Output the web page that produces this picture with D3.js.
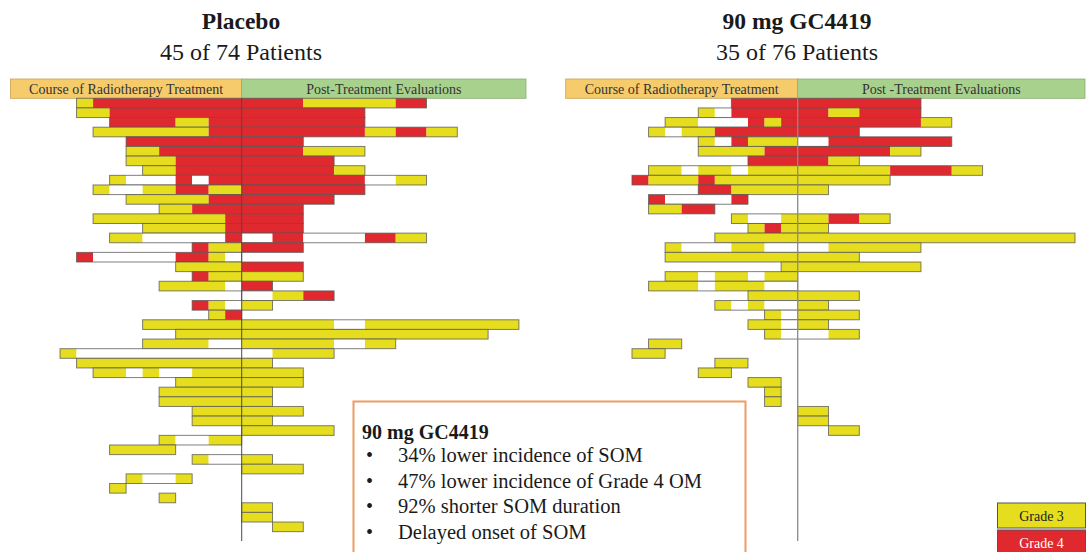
<!DOCTYPE html>
<html><head><meta charset="utf-8">
<script src="https://cdn.jsdelivr.net/npm/d3@7"></script>
<style>body{margin:0;background:#fff;} svg{display:block;font-family:"Liberation Serif","DejaVu Serif",serif;}</style>
</head><body><svg id="c" width="1092" height="552"></svg>
<script>
// Each row: cells left of the "|" are radiotherapy half-week cells (last char is the one next to the centre line),
// cells right of it are post-treatment weekly cells. Y = Grade 3, R = Grade 4, w = no severe OM, . = none
const placeboRows = [
  "YRRRRRRRRR|RRYYYR","YYRRRRRRRR|RRRR","RRRRYYRR|RRRR","YYYYYYYRR|RRRRYRY","RRRRRRR|RR",
  "YYRRRRR|RRYY","YYYRRRR|RRR","YYRRRR|RRRY","YwwwRwRR|RRRRwY","YwwYYRRYY|RRRR",
  "YYYYYRR|RRR","YYRRR|RR","YYYYYYYYR|RR","YYYYYR|RR","YYwwwwwR|wRwwRY",
  "RYY|RR","RwwwwwRRYw|","YYYY|RR","RYY|YY","YYYYw|R",
  "|wYR","RYw|Y","YR|","YYYYYY|YYYwYYYYY","YYYY|YYYYYYYY",
  "YYYYww|YYYwY","Ywwwwwwwwww|wYY","YYYYYYYYYY|Y","YYwYwwYYY|YY","YYYY|YY",
  "YYYYY|Y","YYYYY|Y","YYY|YY","YYY|Y","|YYY",
  "YwwYY|","YYYY....|","Yww|Y","|YY","YwwY...|",
  "Y.......|","Y....|","|Y","|Y","|.Y"
];
const gcRows = [
  "RRRR|RRRR","YwRRRR|RYRR","YYwwwRYR|RRRRY","YwYYRRRRR|RR","YwRYYY|wRRRR",
  "YYYYRR|RRRY","RRR|RY","YYwYYwYYY|YYYRRY","RYYYRYYYYY|YYY","RRYYYY|Y",
  "RwwwwR...|","YYRR.....|","YwwY|YRY","YRY|Y","YYYYY|YYYYYYYYY",
  "YwwwYYww|wYYY","YYYYYYYY|YY","Y|YYYY","YYwYYwYY|","YYYwYYYww|",
  "YYY|YY","YwYww|Y","Yw|YY","YYw|Y","Yw|wY",
  "YY.......|","YY........|","YY...|","YY....|","YY.|",
  "Y.|","Y.|","|Y","|Y","|.Y"
];
const panelTitles = ["Placebo", "90 mg GC4419"];
const panelSubtitles = ["45 of 74 Patients", "35 of 76 Patients"];
const phaseLabels = [["Course of Radiotherapy Treatment","Post-Treatment Evaluations"],
                     ["Course of Radiotherapy Treatment","Post -Treatment Evaluations"]];
const boxTitle = "90 mg GC4419";
const boxBullets = ["34% lower incidence of SOM","47% lower incidence of Grade 4 OM","92% shorter SOM duration","Delayed onset of SOM"];
const legendLabels = ["Grade 3","Grade 4"];

const colors = {Y:"#E5DD1E", R:"#E0292F", w:"#FFFFFF"};
const svg = d3.select("#c");

const panels = [
  {rows: placeboRows, range:[10.5, 241.7, 518.9], headEnd: 526, cx: 241, lineColor:"#4a4a4a", lineW:1},
  {rows: gcRows, range:[565.7, 797.7, 1075], headEnd: 1085, cx: 797, lineColor:"#8a8a8a", lineW:1.3}
];
const rowTop = 98.3, rowH = 9.63;

panels.forEach((p, pi) => {
  const g = svg.append("g");
  const x = d3.scaleLinear().domain([-14, 0, 9]).range(p.range);
  const y = d3.scaleBand().domain(d3.range(p.rows.length)).range([rowTop, rowTop + rowH * p.rows.length]).padding(0);

  // titles
  g.append("text").attr("x", p.cx).attr("y", 29).attr("text-anchor","middle")
    .attr("font-size", 23.5).attr("font-weight","bold").attr("fill","#1a1a1a").text(panelTitles[pi]);
  g.append("text").attr("x", p.cx).attr("y", 60).attr("text-anchor","middle")
    .attr("font-size", 24).attr("fill","#1a1a1a").text(panelSubtitles[pi]);

  // phase headers
  g.append("rect").attr("x", x(-14)).attr("y", 79).attr("width", x(0)-x(-14)).attr("height", rowTop-79)
    .attr("fill","#F6CB6C").attr("stroke","#c9a24c").attr("stroke-width",0.8);
  g.append("rect").attr("x", x(0)).attr("y", 79).attr("width", p.headEnd - x(0)).attr("height", rowTop-79)
    .attr("fill","#A9D18E").attr("stroke","#8aae72").attr("stroke-width",0.8);
  g.append("text").attr("x", (x(-14)+x(0))/2).attr("y", 93.5).attr("text-anchor","middle")
    .attr("font-size", 14).attr("fill","#333").text(phaseLabels[pi][0]);
  g.append("text").attr("x", (x(0)+p.headEnd)/2).attr("y", 93.5).attr("text-anchor","middle")
    .attr("font-size", 14).attr("fill","#333").text(phaseLabels[pi][1]);

  // rows
  p.rows.forEach((s, ri) => {
    const [left, right] = s.split("|");
    const cells = [];
    for (let j = 0; j < left.length; j++) { const k = left.length - j; cells.push({d0:-k, d1:-k+1, c:left[j]}); }
    for (let j = 0; j < right.length; j++) cells.push({d0:j, d1:j+1, c:right[j]});
    const runs = [], bars = [];
    cells.forEach(cl => {
      if (cl.c === ".") return;
      const last = runs[runs.length-1];
      if (last && last.c === cl.c && last.d1 === cl.d0) last.d1 = cl.d1; else runs.push({...cl});
      const lb = bars[bars.length-1];
      if (lb && lb.d1 === cl.d0) lb.d1 = cl.d1; else bars.push({d0:cl.d0, d1:cl.d1});
    });
    const yy = y(ri), hh = y.bandwidth();
    g.selectAll(null).data(runs).enter().append("rect")
      .attr("x", d => x(d.d0)).attr("y", yy).attr("width", d => x(d.d1)-x(d.d0)).attr("height", hh)
      .attr("fill", d => colors[d.c]);
    g.selectAll(null).data(bars).enter().append("rect")
      .attr("x", d => x(d.d0)).attr("y", yy).attr("width", d => x(d.d1)-x(d.d0)).attr("height", hh)
      .attr("fill","none").attr("stroke","#555").attr("stroke-opacity",0.75).attr("stroke-width",1);
  });

  // centre line
  g.append("line").attr("x1", x(0)).attr("x2", x(0)).attr("y1", rowTop).attr("y2", 541)
    .attr("stroke", p.lineColor).attr("stroke-width", p.lineW);
});

// info box
const box = svg.append("g");
box.append("rect").attr("x", 353.5).attr("y", 401.5).attr("width", 392).attr("height", 200)
  .attr("fill","#fff").attr("stroke","#EF9B63").attr("stroke-width",2);
box.append("text").attr("x", 362).attr("y", 439).attr("font-size", 20).attr("font-weight","bold")
  .attr("fill","#1a1a1a").text(boxTitle);
boxBullets.forEach((t, i) => {
  const by = 462 + i * 25.5;
  box.append("text").attr("x", 366).attr("y", by).attr("font-size", 20).attr("fill","#1a1a1a").text("•");
  box.append("text").attr("x", 398).attr("y", by).attr("font-size", 20.5).attr("fill","#1a1a1a").text(t);
});

// legend
const lg = svg.append("g");
[["Y", 503, "#222"], ["R", 530, "#fff"]].forEach((d, i) => {
  lg.append("rect").attr("x", 997.5).attr("y", d[1]).attr("width", 88).attr("height", 25)
    .attr("fill", colors[d[0]]).attr("stroke","#555").attr("stroke-width",1);
  lg.append("text").attr("x", 1041.5).attr("y", d[1] + 18).attr("text-anchor","middle")
    .attr("font-size", 14).attr("fill", d[2]).text(legendLabels[i]);
});
</script></body></html>
